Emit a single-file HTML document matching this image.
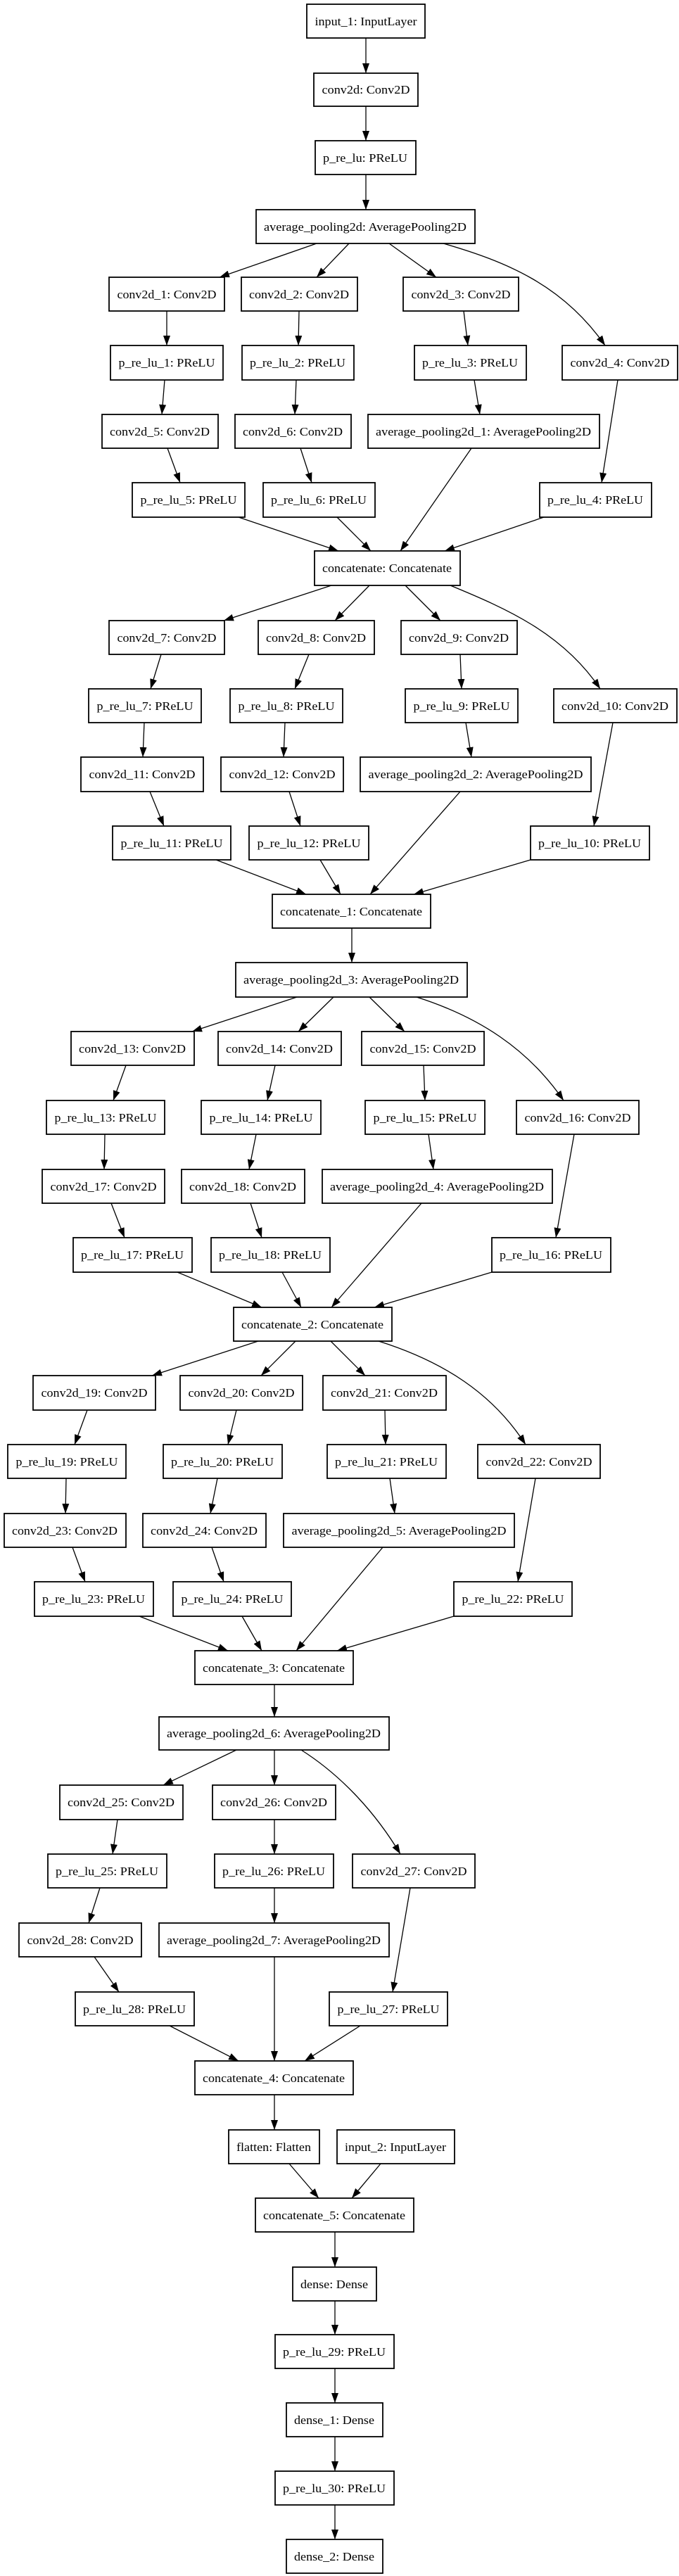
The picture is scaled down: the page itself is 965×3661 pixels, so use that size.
<!DOCTYPE html>
<html><head><meta charset="utf-8"><style>
html,body{margin:0;padding:0;background:#fff}
svg{display:block}
rect{fill:#fff;stroke:#000;stroke-width:1.8}
text{font-family:"Liberation Serif",serif;font-size:17px;text-anchor:middle;fill:#000}
path{fill:none;stroke:#000;stroke-width:1.3}
</style></head><body>
<svg width="965" height="3661" viewBox="0 0 965 3661" xmlns="http://www.w3.org/2000/svg">
<defs><marker id="a" markerUnits="userSpaceOnUse" markerWidth="14" markerHeight="10" refX="14" refY="5" orient="auto"><polygon points="0,0 14,5 0,10" fill="#000"/></marker></defs>
<g marker-end="url(#a)">
<path d="M520,54 L520,104"/><path d="M520,151 L520,200"/><path d="M520,248 L520,298"/>
<path d="M450,346 L312,394"/><path d="M496,346 L450,394"/><path d="M553,346 L620,394"/><path d="M630,346 C720,372 800,405 860,491"/>
<path d="M237,442 L237,491"/><path d="M425,442 L424,491"/><path d="M659,442 L665,491"/>
<path d="M234,540 L230,589"/><path d="M421,540 L419,589"/><path d="M674,540 L682,589"/><path d="M878,540 L855,686"/>
<path d="M238,637 L256,686"/><path d="M427,637 L443,686"/>
<path d="M339,735 L481,783"/><path d="M479,735 L527,783"/><path d="M670,637 L569,783"/><path d="M773,735 L632,783"/>
<path d="M471,832 L318,882"/><path d="M525,832 L476,882"/><path d="M576,832 L626,882"/><path d="M640,832 C720,865 800,900 853,979"/>
<path d="M229,930 L214,979"/><path d="M439,930 L419,979"/><path d="M654,930 L656,979"/><path d="M871,1027 L844,1174"/>
<path d="M205,1027 L203,1076"/><path d="M405,1027 L403,1076"/><path d="M662,1027 L670,1076"/>
<path d="M213,1125 L233,1174"/><path d="M411,1125 L427,1174"/>
<path d="M307,1222 L435,1271"/><path d="M455,1222 L484,1271"/><path d="M654,1125 L526,1271"/><path d="M754,1222 L588,1271"/>
<path d="M500,1319 L500,1368"/>
<path d="M422,1417 L273,1466"/><path d="M474,1417 L424,1466"/><path d="M525,1417 L575,1466"/><path d="M592,1417 C680,1445 750,1490 801,1564"/>
<path d="M179,1514 L161,1564"/><path d="M391,1514 L380,1564"/><path d="M602,1514 L604,1564"/>
<path d="M149,1612 L148,1662"/><path d="M364,1612 L354,1662"/><path d="M609,1612 L616,1662"/><path d="M816,1612 L790,1759"/>
<path d="M158,1710 L177,1759"/><path d="M356,1710 L372,1759"/>
<path d="M252,1808 L372,1858"/><path d="M401,1808 L428,1858"/><path d="M599,1710 L471,1858"/><path d="M699,1808 L532,1858"/>
<path d="M367,1906 L216,1955"/><path d="M420,1906 L371,1955"/><path d="M470,1906 L519,1955"/><path d="M538,1906 C630,1935 700,1980 747,2053"/>
<path d="M124,2004 L106,2053"/><path d="M336,2004 L324,2053"/><path d="M547,2004 L548,2053"/>
<path d="M94,2101 L93,2151"/><path d="M309,2101 L299,2151"/><path d="M554,2101 L561,2151"/><path d="M761,2101 L736,2248"/>
<path d="M103,2199 L121,2248"/><path d="M301,2199 L318,2248"/>
<path d="M198,2297 L324,2346"/><path d="M344,2297 L372,2346"/><path d="M544,2199 L421,2346"/><path d="M645,2297 L479,2346"/>
<path d="M390,2394 L390,2440"/>
<path d="M336,2487 L232,2537"/><path d="M390,2487 L390,2537"/><path d="M428,2487 C480,2520 530,2570 569,2635"/>
<path d="M167,2586 L160,2635"/><path d="M390,2586 L390,2635"/>
<path d="M142,2683 L126,2733"/><path d="M390,2683 L390,2733"/><path d="M583,2683 L558,2831"/>
<path d="M134,2781 L169,2831"/>
<path d="M241,2879 L339,2929"/><path d="M390,2781 L390,2929"/><path d="M512,2879 L433,2929"/>
<path d="M390,2977 L390,3027"/>
<path d="M411,3075 L453,3124"/><path d="M541,3075 L500,3124"/>
<path d="M476,3172 L476,3222"/><path d="M476,3270 L476,3318"/><path d="M476,3366 L476,3415"/><path d="M476,3463 L476,3512"/><path d="M476,3560 L476,3609"/>
</g>
<g>
<rect x="436" y="6" width="168" height="48"/><text x="520" y="36" textLength="145" lengthAdjust="spacingAndGlyphs">input_1: InputLayer</text>
<rect x="446" y="104" width="148" height="47"/><text x="520" y="133" textLength="125" lengthAdjust="spacingAndGlyphs">conv2d: Conv2D</text>
<rect x="448" y="200" width="143" height="48"/><text x="519" y="230" textLength="120" lengthAdjust="spacingAndGlyphs">p_re_lu: PReLU</text>
<rect x="364" y="298" width="311" height="48"/><text x="519" y="328" textLength="288" lengthAdjust="spacingAndGlyphs">average_pooling2d: AveragePooling2D</text>

<rect x="155" y="394" width="164" height="48"/><text x="237" y="424" textLength="141" lengthAdjust="spacingAndGlyphs">conv2d_1: Conv2D</text>
<rect x="343" y="394" width="165" height="48"/><text x="425" y="424" textLength="142" lengthAdjust="spacingAndGlyphs">conv2d_2: Conv2D</text>
<rect x="573" y="394" width="164" height="48"/><text x="655" y="424" textLength="141" lengthAdjust="spacingAndGlyphs">conv2d_3: Conv2D</text>
<rect x="157" y="491" width="160" height="49"/><text x="237" y="521" textLength="137" lengthAdjust="spacingAndGlyphs">p_re_lu_1: PReLU</text>
<rect x="344" y="491" width="159" height="49"/><text x="423" y="521" textLength="136" lengthAdjust="spacingAndGlyphs">p_re_lu_2: PReLU</text>
<rect x="589" y="491" width="159" height="49"/><text x="668" y="521" textLength="136" lengthAdjust="spacingAndGlyphs">p_re_lu_3: PReLU</text>
<rect x="799" y="491" width="164" height="49"/><text x="881" y="521" textLength="141" lengthAdjust="spacingAndGlyphs">conv2d_4: Conv2D</text>
<rect x="145" y="589" width="165" height="48"/><text x="227" y="619" textLength="142" lengthAdjust="spacingAndGlyphs">conv2d_5: Conv2D</text>
<rect x="334" y="589" width="165" height="48"/><text x="416" y="619" textLength="142" lengthAdjust="spacingAndGlyphs">conv2d_6: Conv2D</text>
<rect x="523" y="589" width="329" height="48"/><text x="687" y="619" textLength="306" lengthAdjust="spacingAndGlyphs">average_pooling2d_1: AveragePooling2D</text>
<rect x="188" y="686" width="160" height="49"/><text x="268" y="716" textLength="137" lengthAdjust="spacingAndGlyphs">p_re_lu_5: PReLU</text>
<rect x="374" y="686" width="159" height="49"/><text x="453" y="716" textLength="136" lengthAdjust="spacingAndGlyphs">p_re_lu_6: PReLU</text>
<rect x="767" y="686" width="159" height="49"/><text x="846" y="716" textLength="136" lengthAdjust="spacingAndGlyphs">p_re_lu_4: PReLU</text>
<rect x="447" y="783" width="207" height="49"/><text x="550" y="813" textLength="184" lengthAdjust="spacingAndGlyphs">concatenate: Concatenate</text>

<rect x="155" y="882" width="164" height="48"/><text x="237" y="912" textLength="141" lengthAdjust="spacingAndGlyphs">conv2d_7: Conv2D</text>
<rect x="367" y="882" width="165" height="48"/><text x="449" y="912" textLength="142" lengthAdjust="spacingAndGlyphs">conv2d_8: Conv2D</text>
<rect x="570" y="882" width="165" height="48"/><text x="652" y="912" textLength="142" lengthAdjust="spacingAndGlyphs">conv2d_9: Conv2D</text>
<rect x="126" y="979" width="160" height="48"/><text x="206" y="1009" textLength="137" lengthAdjust="spacingAndGlyphs">p_re_lu_7: PReLU</text>
<rect x="327" y="979" width="160" height="48"/><text x="407" y="1009" textLength="137" lengthAdjust="spacingAndGlyphs">p_re_lu_8: PReLU</text>
<rect x="576" y="979" width="160" height="48"/><text x="656" y="1009" textLength="137" lengthAdjust="spacingAndGlyphs">p_re_lu_9: PReLU</text>
<rect x="787" y="979" width="175" height="48"/><text x="874" y="1009" textLength="152" lengthAdjust="spacingAndGlyphs">conv2d_10: Conv2D</text>
<rect x="115" y="1076" width="174" height="49"/><text x="202" y="1106" textLength="151" lengthAdjust="spacingAndGlyphs">conv2d_11: Conv2D</text>
<rect x="314" y="1076" width="174" height="49"/><text x="401" y="1106" textLength="151" lengthAdjust="spacingAndGlyphs">conv2d_12: Conv2D</text>
<rect x="512" y="1076" width="328" height="49"/><text x="676" y="1106" textLength="305" lengthAdjust="spacingAndGlyphs">average_pooling2d_2: AveragePooling2D</text>
<rect x="160" y="1174" width="168" height="48"/><text x="244" y="1204" textLength="145" lengthAdjust="spacingAndGlyphs">p_re_lu_11: PReLU</text>
<rect x="354" y="1174" width="170" height="48"/><text x="439" y="1204" textLength="147" lengthAdjust="spacingAndGlyphs">p_re_lu_12: PReLU</text>
<rect x="754" y="1174" width="169" height="48"/><text x="838" y="1204" textLength="146" lengthAdjust="spacingAndGlyphs">p_re_lu_10: PReLU</text>
<rect x="387" y="1271" width="225" height="48"/><text x="499" y="1301" textLength="202" lengthAdjust="spacingAndGlyphs">concatenate_1: Concatenate</text>
<rect x="335" y="1368" width="329" height="49"/><text x="499" y="1398" textLength="306" lengthAdjust="spacingAndGlyphs">average_pooling2d_3: AveragePooling2D</text>

<rect x="101" y="1466" width="175" height="48"/><text x="188" y="1496" textLength="152" lengthAdjust="spacingAndGlyphs">conv2d_13: Conv2D</text>
<rect x="310" y="1466" width="175" height="48"/><text x="397" y="1496" textLength="152" lengthAdjust="spacingAndGlyphs">conv2d_14: Conv2D</text>
<rect x="514" y="1466" width="174" height="48"/><text x="601" y="1496" textLength="151" lengthAdjust="spacingAndGlyphs">conv2d_15: Conv2D</text>
<rect x="66" y="1564" width="168" height="48"/><text x="150" y="1594" textLength="145" lengthAdjust="spacingAndGlyphs">p_re_lu_13: PReLU</text>
<rect x="286" y="1564" width="170" height="48"/><text x="371" y="1594" textLength="147" lengthAdjust="spacingAndGlyphs">p_re_lu_14: PReLU</text>
<rect x="519" y="1564" width="170" height="48"/><text x="604" y="1594" textLength="147" lengthAdjust="spacingAndGlyphs">p_re_lu_15: PReLU</text>
<rect x="734" y="1564" width="174" height="48"/><text x="821" y="1594" textLength="151" lengthAdjust="spacingAndGlyphs">conv2d_16: Conv2D</text>
<rect x="60" y="1662" width="174" height="48"/><text x="147" y="1692" textLength="151" lengthAdjust="spacingAndGlyphs">conv2d_17: Conv2D</text>
<rect x="258" y="1662" width="175" height="48"/><text x="345" y="1692" textLength="152" lengthAdjust="spacingAndGlyphs">conv2d_18: Conv2D</text>
<rect x="458" y="1662" width="327" height="48"/><text x="621" y="1692" textLength="304" lengthAdjust="spacingAndGlyphs">average_pooling2d_4: AveragePooling2D</text>
<rect x="104" y="1759" width="169" height="49"/><text x="188" y="1789" textLength="146" lengthAdjust="spacingAndGlyphs">p_re_lu_17: PReLU</text>
<rect x="300" y="1759" width="169" height="49"/><text x="384" y="1789" textLength="146" lengthAdjust="spacingAndGlyphs">p_re_lu_18: PReLU</text>
<rect x="699" y="1759" width="169" height="49"/><text x="783" y="1789" textLength="146" lengthAdjust="spacingAndGlyphs">p_re_lu_16: PReLU</text>
<rect x="332" y="1858" width="225" height="48"/><text x="444" y="1888" textLength="202" lengthAdjust="spacingAndGlyphs">concatenate_2: Concatenate</text>

<rect x="47" y="1955" width="174" height="49"/><text x="134" y="1985" textLength="151" lengthAdjust="spacingAndGlyphs">conv2d_19: Conv2D</text>
<rect x="256" y="1955" width="174" height="49"/><text x="343" y="1985" textLength="151" lengthAdjust="spacingAndGlyphs">conv2d_20: Conv2D</text>
<rect x="459" y="1955" width="175" height="49"/><text x="546" y="1985" textLength="152" lengthAdjust="spacingAndGlyphs">conv2d_21: Conv2D</text>
<rect x="11" y="2053" width="168" height="48"/><text x="95" y="2083" textLength="145" lengthAdjust="spacingAndGlyphs">p_re_lu_19: PReLU</text>
<rect x="232" y="2053" width="169" height="48"/><text x="316" y="2083" textLength="146" lengthAdjust="spacingAndGlyphs">p_re_lu_20: PReLU</text>
<rect x="465" y="2053" width="169" height="48"/><text x="549" y="2083" textLength="146" lengthAdjust="spacingAndGlyphs">p_re_lu_21: PReLU</text>
<rect x="679" y="2053" width="174" height="48"/><text x="766" y="2083" textLength="151" lengthAdjust="spacingAndGlyphs">conv2d_22: Conv2D</text>
<rect x="6" y="2151" width="173" height="48"/><text x="92" y="2181" textLength="150" lengthAdjust="spacingAndGlyphs">conv2d_23: Conv2D</text>
<rect x="203" y="2151" width="175" height="48"/><text x="290" y="2181" textLength="152" lengthAdjust="spacingAndGlyphs">conv2d_24: Conv2D</text>
<rect x="403" y="2151" width="328" height="48"/><text x="567" y="2181" textLength="305" lengthAdjust="spacingAndGlyphs">average_pooling2d_5: AveragePooling2D</text>
<rect x="49" y="2248" width="169" height="49"/><text x="133" y="2278" textLength="146" lengthAdjust="spacingAndGlyphs">p_re_lu_23: PReLU</text>
<rect x="246" y="2248" width="168" height="49"/><text x="330" y="2278" textLength="145" lengthAdjust="spacingAndGlyphs">p_re_lu_24: PReLU</text>
<rect x="645" y="2248" width="168" height="49"/><text x="729" y="2278" textLength="145" lengthAdjust="spacingAndGlyphs">p_re_lu_22: PReLU</text>
<rect x="277" y="2346" width="225" height="48"/><text x="389" y="2376" textLength="202" lengthAdjust="spacingAndGlyphs">concatenate_3: Concatenate</text>
<rect x="226" y="2440" width="327" height="47"/><text x="389" y="2469" textLength="304" lengthAdjust="spacingAndGlyphs">average_pooling2d_6: AveragePooling2D</text>

<rect x="85" y="2537" width="175" height="49"/><text x="172" y="2567" textLength="152" lengthAdjust="spacingAndGlyphs">conv2d_25: Conv2D</text>
<rect x="302" y="2537" width="175" height="49"/><text x="389" y="2567" textLength="152" lengthAdjust="spacingAndGlyphs">conv2d_26: Conv2D</text>
<rect x="68" y="2635" width="169" height="48"/><text x="152" y="2665" textLength="146" lengthAdjust="spacingAndGlyphs">p_re_lu_25: PReLU</text>
<rect x="305" y="2635" width="169" height="48"/><text x="389" y="2665" textLength="146" lengthAdjust="spacingAndGlyphs">p_re_lu_26: PReLU</text>
<rect x="501" y="2635" width="174" height="48"/><text x="588" y="2665" textLength="151" lengthAdjust="spacingAndGlyphs">conv2d_27: Conv2D</text>
<rect x="27" y="2733" width="174" height="48"/><text x="114" y="2763" textLength="151" lengthAdjust="spacingAndGlyphs">conv2d_28: Conv2D</text>
<rect x="226" y="2733" width="327" height="48"/><text x="389" y="2763" textLength="304" lengthAdjust="spacingAndGlyphs">average_pooling2d_7: AveragePooling2D</text>
<rect x="107" y="2831" width="169" height="48"/><text x="191" y="2861" textLength="146" lengthAdjust="spacingAndGlyphs">p_re_lu_28: PReLU</text>
<rect x="468" y="2831" width="168" height="48"/><text x="552" y="2861" textLength="145" lengthAdjust="spacingAndGlyphs">p_re_lu_27: PReLU</text>
<rect x="277" y="2929" width="225" height="48"/><text x="389" y="2959" textLength="202" lengthAdjust="spacingAndGlyphs">concatenate_4: Concatenate</text>
<rect x="325" y="3027" width="129" height="48"/><text x="389" y="3057" textLength="106" lengthAdjust="spacingAndGlyphs">flatten: Flatten</text>
<rect x="479" y="3027" width="167" height="48"/><text x="562" y="3057" textLength="144" lengthAdjust="spacingAndGlyphs">input_2: InputLayer</text>
<rect x="363" y="3124" width="225" height="48"/><text x="475" y="3154" textLength="202" lengthAdjust="spacingAndGlyphs">concatenate_5: Concatenate</text>
<rect x="416" y="3222" width="119" height="48"/><text x="475" y="3252" textLength="96" lengthAdjust="spacingAndGlyphs">dense: Dense</text>
<rect x="391" y="3318" width="169" height="48"/><text x="475" y="3348" textLength="146" lengthAdjust="spacingAndGlyphs">p_re_lu_29: PReLU</text>
<rect x="407" y="3415" width="137" height="48"/><text x="475" y="3445" textLength="114" lengthAdjust="spacingAndGlyphs">dense_1: Dense</text>
<rect x="391" y="3512" width="169" height="48"/><text x="475" y="3542" textLength="146" lengthAdjust="spacingAndGlyphs">p_re_lu_30: PReLU</text>
<rect x="407" y="3609" width="137" height="48"/><text x="475" y="3639" textLength="114" lengthAdjust="spacingAndGlyphs">dense_2: Dense</text>
</g>
</svg>
</body></html>
